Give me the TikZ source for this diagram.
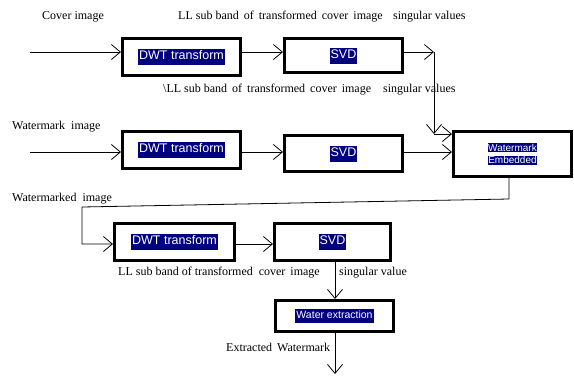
\documentclass[tikz,border=0pt]{standalone}
\usepackage{fontspec}
\setmainfont{Liberation Serif}
\newfontfamily\boxfont{Liberation Sans}
\usetikzlibrary{arrows.meta}
\definecolor{hl}{RGB}{0,0,128}
\newcommand{\hlt}[1]{{\setlength{\fboxsep}{1pt}\colorbox{hl}{\textcolor{white}{\strut #1}}}}
\begin{document}
\begin{tikzpicture}[x=1pt,y=-1pt,
  blk/.style={draw, line width=3pt, inner sep=0pt, align=center, font=\boxfont\fontsize{12.5}{14}\selectfont},
  arr/.style={-{Straight Barb[length=9pt,width=15pt,line width=0.8pt]}, line width=0.8pt},
  lbl/.style={anchor=west, inner sep=0pt, font=\fontsize{12}{14}\selectfont}]
\useasboundingbox (0,0) rectangle (574,376);
% boxes
\node[blk, minimum width=118pt, minimum height=37pt] (dwt1) at (181.5,57) {\hlt{DWT transform}};
\node[blk, minimum width=118pt, minimum height=34pt] (svd1) at (343.5,55.5) {\hlt{SVD}};
\node[blk, minimum width=118pt, minimum height=37pt] (dwt2) at (181.5,150) {\hlt{DWT transform}};
\node[blk, minimum width=118pt, minimum height=36pt] (svd2) at (343.5,153.5) {\hlt{SVD}};
\node[blk, minimum width=118pt, minimum height=45pt, font=\boxfont\fontsize{10}{11}\selectfont] (wm) at (512.5,154)
  {{\setlength{\fboxsep}{0.7pt}\colorbox{hl}{\textcolor{white}{Watermark}}}\\[1.5pt]{\setlength{\fboxsep}{0.7pt}\colorbox{hl}{\textcolor{white}{Embedded}}}};
\node[blk, minimum width=120pt, minimum height=37pt] (dwt3) at (174.5,242) {\hlt{DWT transform}};
\node[blk, minimum width=116pt, minimum height=37pt] (svd3) at (332.5,242) {\hlt{SVD}};
\node[blk, minimum width=118pt, minimum height=31pt, font=\boxfont\fontsize{10.5}{12}\selectfont] (wx) at (334.5,316) {\hlt{Water extraction}};
% labels
\node[lbl] (l1) at (42,17) {Cover image};
\node[lbl] (l2) at (178,17) {LL sub band\, of\, transformed\, cover\, image};
\node[lbl] (l3) at (393,17) {singular values};
\node[lbl] (l4) at (163,90) {\textbackslash LL sub band\, of\, transformed\, cover\, image};
\node[lbl] (l5) at (383,90) {singular values};
\node[lbl] (l6) at (12,127) {Watermark\ \ image};
\node[lbl] (l7) at (12,199) {Watermarked\ \ image};
\node[lbl] (l8) at (118,273) {LL sub band of transformed\ \ cover\, image};
\node[lbl] (l9) at (339,273) {singular value};
\node[lbl] (l10) at (226,347) {Extracted\, Watermark};
% row 1
\coordinate (a1) at (30,52);
\draw[arr] (a1) -- (a1 -| dwt1.west);
\draw[arr] (dwt1.east |- a1) -- (svd1.west |- a1);
\coordinate (c1) at (434,52);
\coordinate (c2) at (434,134);
\draw[arr] (svd1.east |- c1) -- (c1);
\draw[arr] (c1) -- (c2);
\draw[arr] (c2) -- (c2 -| wm.west);
% row 2
\coordinate (a2) at (30,152);
\draw[arr] (a2) -- (a2 -| dwt2.west);
\draw[arr] (dwt2.east |- a2) -- (svd2.west |- a2);
\draw[arr] (svd2.east |- a2) -- (wm.west |- a2);
% row 3
\coordinate (d1) at (509,199);
\coordinate (d2) at (82,207);
\coordinate (d3) at (82,244);
\draw[arr] (wm.south -| d1) -- (d1) -- (d2) -- (d3) -- (dwt3.west |- d3);
\draw[arr] (dwt3.east |- d3) -- (svd3.west |- d3);
\coordinate (e) at (335,0);
\draw[arr] (svd3.south -| e) -- (wx.north -| e);
\coordinate (out) at (335,374);
\draw[arr] (wx.south -| out) -- (out);
\end{tikzpicture}
\end{document}
